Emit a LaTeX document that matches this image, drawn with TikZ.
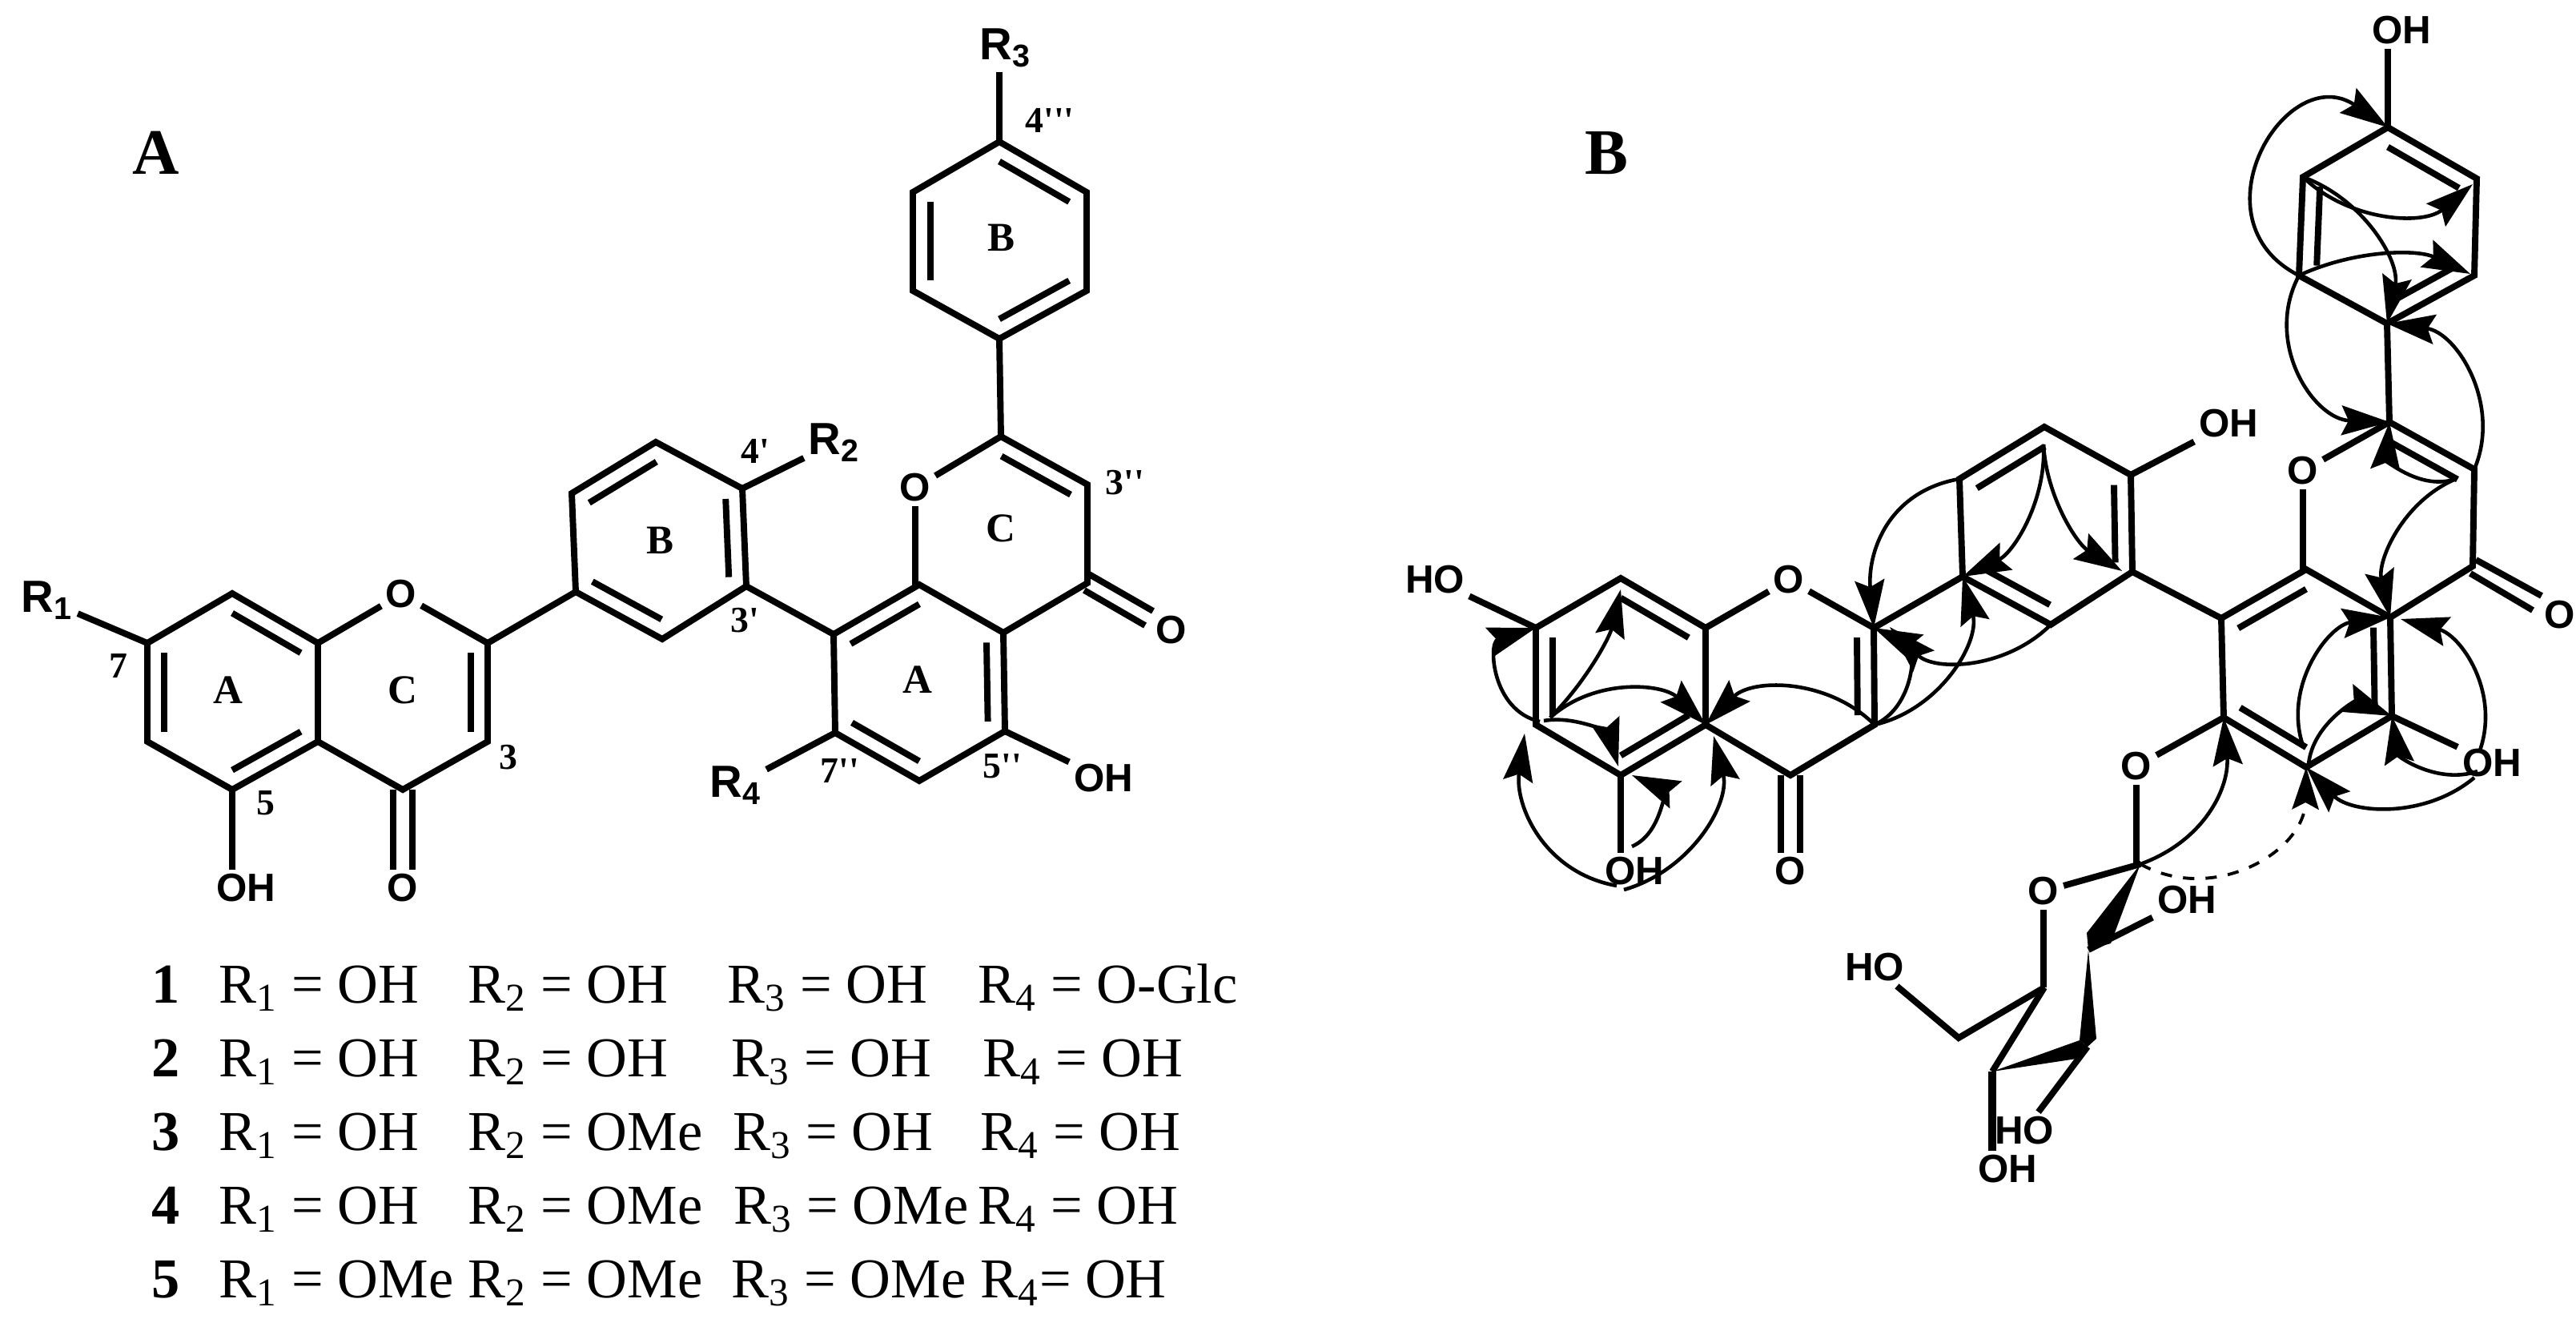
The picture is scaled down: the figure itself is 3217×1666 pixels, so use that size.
\documentclass[tikz,border=0pt]{standalone}
\usepackage{fontspec}
\setmainfont{Liberation Serif}
\newfontfamily\labsans{Liberation Sans}
\usetikzlibrary{calc,arrows.meta}

\tikzset{
  bond/.style={black,line width=2.25pt},
  hmbc/.style={black,line width=1.3pt,-{Stealth[length=17pt,width=10.5pt,inset=2.5pt]}},
  noesy/.style={black,line width=1.1pt,dash pattern=on 4pt off 4pt,-{Stealth[length=15pt,width=9.5pt,inset=2.5pt]}},
  atomlab/.style={font=\labsans\bfseries\fontsize{14}{16}\selectfont,inner sep=1.5pt},
  rlab/.style={font=\labsans\bfseries\fontsize{16}{19}\selectfont,inner sep=1.5pt},
  ringlab/.style={font=\bfseries\fontsize{14.5}{17}\selectfont,inner sep=0pt},
  numlab/.style={font=\bfseries\fontsize{13}{16}\selectfont,inner sep=0pt},
  panellab/.style={font=\bfseries\fontsize{23}{27}\selectfont,inner sep=0pt},
  cell/.style={font=\fontsize{20}{24}\selectfont,anchor=base west,inner sep=0pt},
  rownum/.style={font=\bfseries\fontsize{20}{24}\selectfont,anchor=base,inner sep=0pt}
}

\begin{document}
\begin{tikzpicture}[x=0.01cm,y=-0.01cm]
\useasboundingbox (0,0) rectangle (3217,1666);

% Panel letters
\node[panellab] (panelA) at (195,191) {A};
\node[panellab] (panelB) at (2006,191) {B};

% Panel A: first flavone, atoms
\coordinate (aC7) at (184,803);
\coordinate (aC8) at (290,741);
\coordinate (aC8a) at (397,803);
\coordinate (aC4a) at (397,926);
\coordinate (aC5) at (290,986);
\coordinate (aC6) at (184,926);
\coordinate (aC2) at (609,803);
\coordinate (aC3) at (609,926);
\coordinate (aC4) at (503,986);
\coordinate (aB1) at (719,739);
\coordinate (aB2) at (714,616);
\coordinate (aB3) at (819,552);
\coordinate (aB4) at (927,610);
\coordinate (aB5) at (932,732);
\coordinate (aB6) at (827,798);
\coordinate (aRingC) at (503,864);
\coordinate (aRingB) at (823,675);
% Panel A: second flavone, atoms
\coordinate (aU1) at (1248,423);
\coordinate (aU2) at (1357,363);
\coordinate (aU3) at (1357,240);
\coordinate (aU4) at (1248,177);
\coordinate (aU5) at (1140,240);
\coordinate (aU6) at (1140,363);
\coordinate (aF2) at (1250,545);
\coordinate (aF3) at (1358,605);
\coordinate (aF4) at (1358,728);
\coordinate (aF4a) at (1253,790);
\coordinate (aF5) at (1255,913);
\coordinate (aF6) at (1148,975);
\coordinate (aF7) at (1043,915);
\coordinate (aF8) at (1041,792);
\coordinate (aF8a) at (1148,730);
\coordinate (aRingU) at (1248,300);
\coordinate (aRingF) at (1253,668);
\coordinate (aRingD) at (1148,852);
\coordinate (aRingA) at (290,864);

% Panel A: atom labels
\node[atomlab] (aO1) at (501,742) {O};
\node[atomlab] (aO4) at (503,1109) {O};
\node[atomlab] (aOH5) at (307,1109) {OH};
\node[rlab] (aR1) at (59,750) {R\textsubscript{1}};
\node[rlab] (aR2) at (1042,553) {R\textsubscript{2}};
\node[rlab] (aR3) at (1256,60) {R\textsubscript{3}};
\node[rlab] (aR4) at (919,981) {R\textsubscript{4}};
\node[atomlab] (aO1f) at (1143,609) {O};
\node[atomlab] (aO4f) at (1463,787) {O};
\node[atomlab] (aOH5f) at (1378,972) {OH};

% Panel A: bonds
\draw[bond] (aC7)--(aC8)--(aC8a)--(aC4a)--(aC5)--(aC6)--cycle;
\draw[bond] (aC2)--(aC3)--(aC4)--(aC4a);
\draw[bond] (aC8a)--(aO1);
\draw[bond] (aO1)--(aC2);
\draw[bond] (aC2)--(aB1);
\draw[bond] (aB1)--(aB2)--(aB3)--(aB4)--(aB5)--(aB6)--cycle;
\draw[bond] (aC7)--(aR1);
\draw[bond] (aC5)--(aC5 |- aOH5.north);
\draw[bond] ($(aC4)+(-12,0)$)--($(aO4.north)+(-12,0)$);
\draw[bond] ($(aC4)+(12,0)$)--($(aO4.north)+(12,0)$);
\draw[bond] (aB4)--(aR2);
\draw[bond] (aB5)--(aF8);
\draw[bond] (aU1)--(aU2)--(aU3)--(aU4)--(aU5)--(aU6)--cycle;
\draw[bond] (aU4)--(aU4 |- aR3.south);
\draw[bond] (aU1)--(aF2);
\draw[bond] (aF2)--(aF3)--(aF4)--(aF4a)--(aF8a)--(aF8)--(aF7)--(aF6)--(aF5)--(aF4a);
\draw[bond] (aF2)--(aO1f);
\draw[bond] (aO1f)--(aO1f |- aF8a)--(aF8a);
\draw[bond] (aF7)--(aR4);
\draw[bond] (aF5)--(aOH5f);
\draw[bond] ($(aF4)+(2,-11)$)--($(aO4f)+(-23,-24)$);
\draw[bond] ($(aF4)+(-4,9)$)--($(aO4f)+(-33,-6)$);
% Panel A: inner lines of double bonds
\draw[bond] ($(aC8)!.2!(aRingA)$)--($(aC8a)!.2!(aRingA)$);
\draw[bond] ($(aC7)!.2!(aRingA)$)--($(aC6)!.2!(aRingA)$);
\draw[bond] ($(aC5)!.2!(aRingA)$)--($(aC4a)!.2!(aRingA)$);
\draw[bond] ($(aC2)!.2!(aRingC)$)--($(aC3)!.2!(aRingC)$);
\draw[bond] ($(aB2)!.2!(aRingB)$)--($(aB3)!.2!(aRingB)$);
\draw[bond] ($(aB4)!.2!(aRingB)$)--($(aB5)!.2!(aRingB)$);
\draw[bond] ($(aB1)!.2!(aRingB)$)--($(aB6)!.2!(aRingB)$);
\draw[bond] ($(aU1)!.2!(aRingU)$)--($(aU2)!.2!(aRingU)$);
\draw[bond] ($(aU3)!.2!(aRingU)$)--($(aU4)!.2!(aRingU)$);
\draw[bond] ($(aU5)!.2!(aRingU)$)--($(aU6)!.2!(aRingU)$);
\draw[bond] ($(aF2)!.2!(aRingF)$)--($(aF3)!.2!(aRingF)$);
\draw[bond] ($(aF8)!.2!(aRingD)$)--($(aF8a)!.2!(aRingD)$);
\draw[bond] ($(aF4a)!.2!(aRingD)$)--($(aF5)!.2!(aRingD)$);
\draw[bond] ($(aF7)!.2!(aRingD)$)--($(aF6)!.2!(aRingD)$);

% Panel A: ring letters and position numbers
\node[ringlab] (lA1) at (285,862) {A};
\node[ringlab] (lC1) at (503,862) {C};
\node[ringlab] (lB1) at (824,675) {B};
\node[ringlab] (lB2) at (1250,297) {B};
\node[ringlab] (lC2) at (1250,660) {C};
\node[ringlab] (lA2) at (1146,849) {A};
\node[numlab] (n7) at (148,832) {7};
\node[numlab] (n3) at (635,946) {3};
\node[numlab] (n5) at (332,1003) {5};
\node[numlab] (n4p) at (943,563) {4\textquotesingle};
\node[numlab] (n3p) at (930,775) {3\textquotesingle};
\node[numlab] (n4ppp) at (1311,150) {4\textquotesingle\textquotesingle\textquotesingle};
\node[numlab] (n3pp) at (1405,603) {3\textquotesingle\textquotesingle};
\node[numlab] (n7pp) at (1049,963) {7\textquotesingle\textquotesingle};
\node[numlab] (n5pp) at (1252,957) {5\textquotesingle\textquotesingle};

% Panel A: table of substituents
\node[rownum] (t1n) at (207,1252) {1};
\node[cell] (t1a) at (273,1252) {R\textsubscript{1} = OH};
\node[cell] (t1b) at (584,1252) {R\textsubscript{2} = OH};
\node[cell] (t1c) at (908,1252) {R\textsubscript{3} = OH};
\node[cell] (t1d) at (1221,1252) {R\textsubscript{4} = O-Glc};
\node[rownum] (t2n) at (207,1344) {2};
\node[cell] (t2a) at (273,1344) {R\textsubscript{1} = OH};
\node[cell] (t2b) at (584,1344) {R\textsubscript{2} = OH};
\node[cell] (t2c) at (913,1344) {R\textsubscript{3} = OH};
\node[cell] (t2d) at (1227,1344) {R\textsubscript{4} = OH};
\node[rownum] (t3n) at (207,1436) {3};
\node[cell] (t3a) at (273,1436) {R\textsubscript{1} = OH};
\node[cell] (t3b) at (584,1436) {R\textsubscript{2} = OMe};
\node[cell] (t3c) at (915,1436) {R\textsubscript{3} = OH};
\node[cell] (t3d) at (1224,1436) {R\textsubscript{4} = OH};
\node[rownum] (t4n) at (207,1528) {4};
\node[cell] (t4a) at (273,1528) {R\textsubscript{1} = OH};
\node[cell] (t4b) at (584,1528) {R\textsubscript{2} = OMe};
\node[cell] (t4c) at (916,1528) {R\textsubscript{3} = OMe};
\node[cell] (t4d) at (1221,1528) {R\textsubscript{4} = OH};
\node[rownum] (t5n) at (207,1620) {5};
\node[cell] (t5a) at (273,1620) {R\textsubscript{1} = OMe};
\node[cell] (t5b) at (584,1620) {R\textsubscript{2} = OMe};
\node[cell] (t5c) at (913,1620) {R\textsubscript{3} = OMe};
\node[cell] (t5d) at (1224,1620) {R\textsubscript{4}= OH};

% Panel B: first flavone, atoms
\coordinate (bC7) at (1918,784);
\coordinate (bC8) at (2024,722);
\coordinate (bC8a) at (2130,784);
\coordinate (bC4a) at (2130,905);
\coordinate (bC5) at (2024,968);
\coordinate (bC6) at (1918,905);
\coordinate (bC2) at (2340,784);
\coordinate (bC3) at (2341,905);
\coordinate (bC4) at (2236,968);
\coordinate (bB1) at (2451,720);
\coordinate (bB2) at (2447,598);
\coordinate (bB3) at (2553,533);
\coordinate (bB4) at (2661,593);
\coordinate (bB5) at (2663,714);
\coordinate (bB6) at (2561,780);
\coordinate (bRingA) at (2024,845);
\coordinate (bRingC) at (2235,845);
\coordinate (bRingB) at (2556,656);
% Panel B: second flavone, atoms
\coordinate (bU1) at (2981,404);
\coordinate (bU2) at (3090,344);
\coordinate (bU3) at (3093,223);
\coordinate (bU4) at (2982,159);
\coordinate (bU5) at (2876,221);
\coordinate (bU6) at (2871,344);
\coordinate (bF2) at (2984,527);
\coordinate (bF3) at (3090,586);
\coordinate (bF4) at (3088,707);
\coordinate (bF4a) at (2985,771);
\coordinate (bF5) at (2987,894);
\coordinate (bF6) at (2880,958);
\coordinate (bF7) at (2777,896);
\coordinate (bF8) at (2774,772);
\coordinate (bF8a) at (2880,711);
\coordinate (bRingU) at (2982,282);
\coordinate (bRingF) at (2985,649);
\coordinate (bRingD) at (2880,834);
% Panel B: sugar, atoms
\coordinate (bG1) at (2673,1079);
\coordinate (bG2) at (2608,1186);
\coordinate (bG3) at (2607,1307);
\coordinate (bG4) at (2488,1338);
\coordinate (bG5) at (2553,1233);
\coordinate (bG6) at (2446,1296);
\coordinate (bW1) at (2606,1165);
\coordinate (bW2) at (2636,1178);
\coordinate (bW3) at (2597,1299);
\coordinate (bW4) at (2618,1297);
\coordinate (bW5) at (2593,1322);

% Panel B: atom labels
\node[atomlab] (bHO7) at (1792,724) {HO};
\node[atomlab] (bO1) at (2234,724) {O};
\node[atomlab] (bO4) at (2236,1088) {O};
\node[atomlab] (bOH5) at (2041,1088) {OH};
\node[atomlab] (bOHb) at (2783,529) {OH};
\node[atomlab] (bOHu) at (2999,38) {OH};
\node[atomlab] (bO1f) at (2876,588) {O};
\node[atomlab] (bO4f) at (3197,768) {O};
\node[atomlab] (bOH5f) at (3112,953) {OH};
\node[atomlab] (bO7) at (2668,957) {O};
\node[atomlab] (bOg) at (2552,1113) {O};
\node[atomlab] (bOH2) at (2731,1124) {OH};
\node[atomlab] (bHO3) at (2528,1412) {HO};
\node[atomlab] (bOH4) at (2507,1460) {OH};
\node[atomlab] (bHO6) at (2341,1208) {HO};

% Panel B: bonds
\draw[bond] (bC7)--(bC8)--(bC8a)--(bC4a)--(bC5)--(bC6)--cycle;
\draw[bond] (bC2)--(bC3)--(bC4)--(bC4a);
\draw[bond] (bC8a)--(bO1);
\draw[bond] (bO1)--(bC2);
\draw[bond] (bC2)--(bB1);
\draw[bond] (bB1)--(bB2)--(bB3)--(bB4)--(bB5)--(bB6)--cycle;
\draw[bond] (bC7)--(bHO7);
\draw[bond] (bC5)--(bC5 |- bOH5.north);
\draw[bond] ($(bC4)+(-12,0)$)--($(bO4.north)+(-12,0)$);
\draw[bond] ($(bC4)+(12,0)$)--($(bO4.north)+(12,0)$);
\draw[bond] (bB4)--(bOHb);
\draw[bond] (bB5)--(bF8);
\draw[bond] (bU1)--(bU2)--(bU3)--(bU4)--(bU5)--(bU6)--cycle;
\draw[bond] (bU4)--(bU4 |- bOHu.south);
\draw[bond] (bU1)--(bF2);
\draw[bond] (bF2)--(bF3)--(bF4)--(bF4a)--(bF8a)--(bF8)--(bF7)--(bF6)--(bF5)--(bF4a);
\draw[bond] (bF2)--(bO1f);
\draw[bond] (bO1f)--(bO1f |- bF8a)--(bF8a);
\draw[bond] (bF5)--(bOH5f);
\draw[bond] (bF7)--(bO7);
\draw[bond] (bO7)--(bO7 |- bG1)--(bG1);
\draw[bond] ($(bF4)+(4,-8)$)--($(bO4f)+(-23,-24)$);
\draw[bond] ($(bF4)+(-3,9)$)--($(bO4f)+(-34,-6)$);
\draw[bond] (bG1)--(bOg);
\draw[bond] (bOg)--(bOg |- bG5)--(bG5);
\draw[bond] (bG5)--(bG6)--(bHO6);
\draw[bond] (bG5)--(bG4);
\draw[bond] (bG2)--(bOH2);
\draw[bond] (bG3)--(bHO3);
\draw[bond,line width=2.6pt] (bG4)--(bG4 |- bOH4.north);
% Panel B: wedges of the sugar
\fill[black] (bG1)--(bW1)--(bG2)--(bW2)--cycle;
\fill[black] (bG2)--(bW3)--(bG3)--(bW4)--cycle;
\fill[black] (bG4)--(bW3)--(bG3)--(bW5)--cycle;
% Panel B: inner lines of double bonds
\draw[bond] ($(bC8)!.2!(bRingA)$)--($(bC8a)!.2!(bRingA)$);
\draw[bond] ($(bC7)!.2!(bRingA)$)--($(bC6)!.2!(bRingA)$);
\draw[bond] ($(bC5)!.2!(bRingA)$)--($(bC4a)!.2!(bRingA)$);
\draw[bond] ($(bC2)!.2!(bRingC)$)--($(bC3)!.2!(bRingC)$);
\draw[bond] ($(bB2)!.2!(bRingB)$)--($(bB3)!.2!(bRingB)$);
\draw[bond] ($(bB4)!.2!(bRingB)$)--($(bB5)!.2!(bRingB)$);
\draw[bond] ($(bB1)!.2!(bRingB)$)--($(bB6)!.2!(bRingB)$);
\draw[bond] ($(bU1)!.2!(bRingU)$)--($(bU2)!.2!(bRingU)$);
\draw[bond] ($(bU3)!.2!(bRingU)$)--($(bU4)!.2!(bRingU)$);
\draw[bond] ($(bU5)!.2!(bRingU)$)--($(bU6)!.2!(bRingU)$);
\draw[bond] ($(bF2)!.2!(bRingF)$)--($(bF3)!.2!(bRingF)$);
\draw[bond] ($(bF8)!.2!(bRingD)$)--($(bF8a)!.2!(bRingD)$);
\draw[bond] ($(bF4a)!.2!(bRingD)$)--($(bF5)!.2!(bRingD)$);
\draw[bond] ($(bF7)!.2!(bRingD)$)--($(bF6)!.2!(bRingD)$);

% Panel B: free ends of the correlation arrows
\coordinate (pA1) at (1923,901);
\coordinate (pA2) at (1936,896);
\coordinate (pA3) at (1928,900);
\coordinate (pA5) at (2019,1106);
\coordinate (pA6) at (2028,1111);
\coordinate (pA7) at (2038,1057);
\coordinate (qC8) at (2024,736);
\coordinate (qC5) at (2021,957);
\coordinate (qC6) at (1904,916);
\coordinate (qC4a) at (2140,919);
\coordinate (qC5b) at (2038,968);
\coordinate (qC2) at (2360,783);
\coordinate (pB3) at (2552,555);
\coordinate (qB5) at (2650,713);
\coordinate (qU3) at (3088,230);
\coordinate (qU2) at (3085,342);
\coordinate (pF3) at (3067,598);
\coordinate (pF6) at (2875,928);
\coordinate (pF6b) at (2883,954);
\coordinate (qF4a) at (2998,773);
\coordinate (pOHa) at (3097,937);
\coordinate (pOHb) at (3094,963);
\coordinate (pOHc) at (3090,971);

% Panel B: correlation arrows, left rings
\draw[hmbc] (pA1) to [out=167,in=197,looseness=1.36] (bC7);
\draw[hmbc] (pA2) to [out=45,in=257,looseness=.87] (qC8);
\draw[hmbc] (pA2) to [out=42,in=136,looseness=.98] (bC4a);
\draw[hmbc] (pA3) to [out=10,in=106,looseness=.97] (qC5);
\draw[hmbc] (pA5) to [out=170,in=262,looseness=1.05] (qC6);
\draw[hmbc] (pA6) to [out=16,in=284,looseness=1] (qC4a);
\draw[hmbc] (pA7) to [out=24,in=336,looseness=1.21] (qC5b);
\draw[hmbc] (bC3) to [out=135,in=45,looseness=1] (bC4a);
\draw[hmbc] (bC3) to [out=25,in=335,looseness=1.2] (bC2);
\draw[hmbc] (bC3) to [out=13,in=285,looseness=1] (bB1);
\draw[hmbc] (bB6) to [out=225,in=315,looseness=1] (qC2);
\draw[hmbc] (bB2) to [out=190,in=95,looseness=1.1] (bC2);
\draw[hmbc] (pB3) to [out=273,in=25,looseness=.93] (bB1);
\draw[hmbc] (pB3) to [out=-87,in=149,looseness=.9] (qB5);
% Panel B: correlation arrows, right rings
\draw[hmbc] (bU6) to [out=153,in=146,looseness=1.81] (bU4);
\draw[hmbc] (bU5) to [out=-44,in=220,looseness=.97] (qU3);
\draw[hmbc] (bU5) to [out=-20,in=78,looseness=.97] (bU1);
\draw[hmbc] (bU6) to [out=25,in=155,looseness=.89] (qU2);
\draw[hmbc] (bU6) to [out=-118,in=178,looseness=1.13] (bF2);
\draw[hmbc] (bF3) to [out=67,in=353,looseness=1.06] (bU1);
\draw[hmbc] (pF3) to [out=199,in=265,looseness=1.1] (bF2);
\draw[hmbc] (pF3) to [out=203,in=103,looseness=.97] (bF4a);
\draw[hmbc] (pF6) to [out=107,in=187,looseness=1.03] (bF4a);
\draw[hmbc] (pF6b) to [out=84,in=158,looseness=1.06] (bF5);
\draw[hmbc] (pOHa) to [out=71,in=345,looseness=1.04] (qF4a);
\draw[hmbc] (pOHb) to [out=199,in=279,looseness=1.04] (bF5);
\draw[hmbc] (pOHc) to [out=220,in=314,looseness=.98] (bF6);
\draw[hmbc] (bG1) to [out=20,in=275,looseness=1.05] (bF7);
\draw[noesy] (bG1) to [out=-29,in=269,looseness=1.12] (bF6);
\end{tikzpicture}
\end{document}
